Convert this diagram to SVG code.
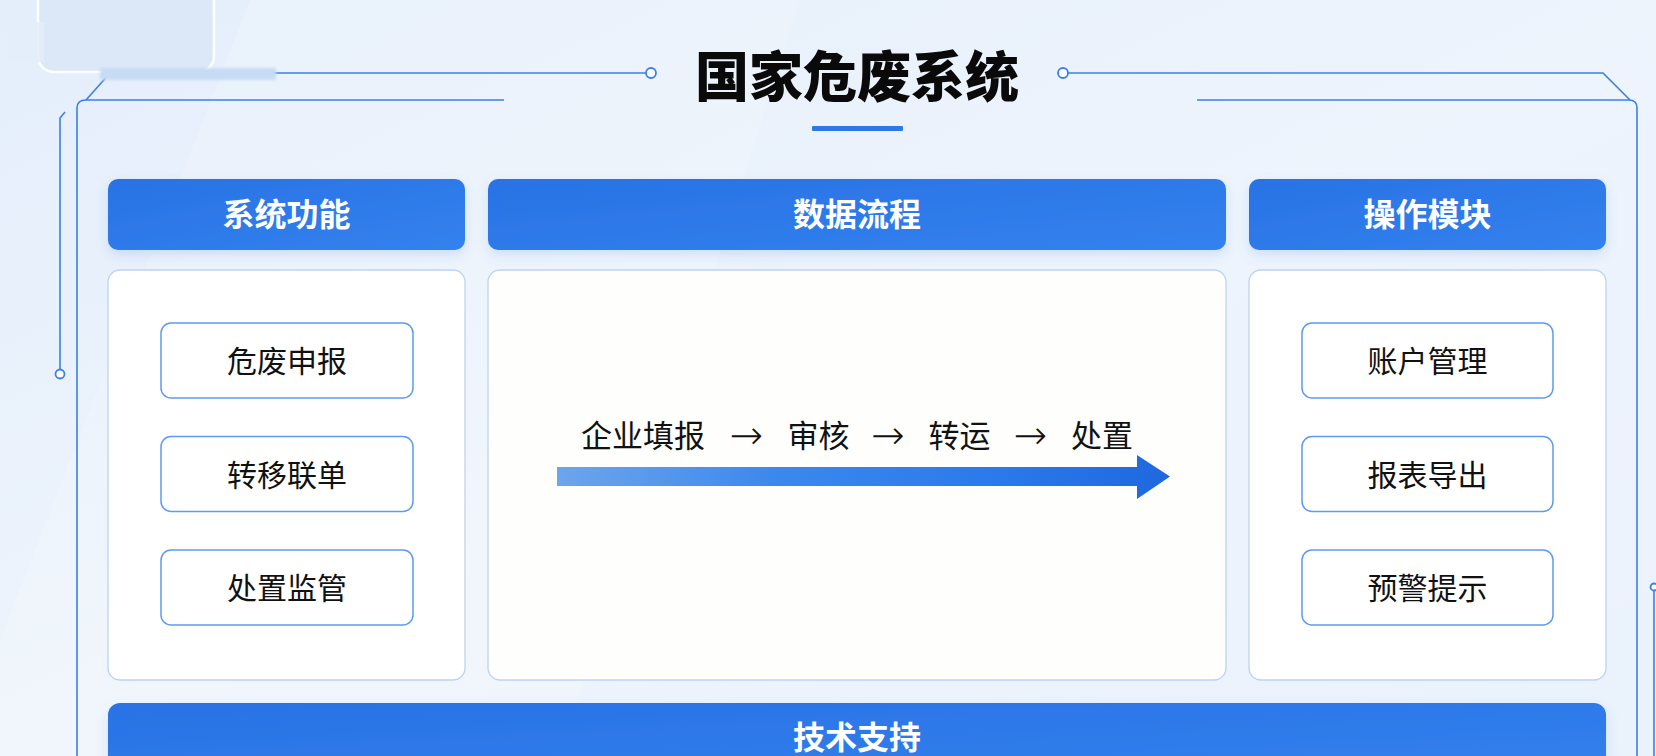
<svg xmlns="http://www.w3.org/2000/svg" width="1656" height="756" viewBox="0 0 1656 756">
  <defs>
    <linearGradient id="bg" x1="0" y1="0" x2="1" y2="1">
      <stop offset="0" stop-color="#e4eefb"/>
      <stop offset="0.5" stop-color="#eef4fc"/>
      <stop offset="1" stop-color="#eaf2fc"/>
    </linearGradient>
    <linearGradient id="hdr" x1="0" y1="0" x2="1" y2="1">
      <stop offset="0" stop-color="#2a72e5"/>
      <stop offset="1" stop-color="#3282ee"/>
    </linearGradient>
    <linearGradient id="flow" x1="0" y1="0" x2="1" y2="0">
      <stop offset="0" stop-color="#6ea5eb"/>
      <stop offset="0.35" stop-color="#3d88ee"/>
      <stop offset="0.7" stop-color="#2c7aeb"/>
      <stop offset="1" stop-color="#1f68df"/>
    </linearGradient>
    <filter id="sh" x="-10%" y="-30%" width="120%" height="170%">
      <feDropShadow dx="0" dy="5" stdDeviation="6" flood-color="#3b7fe0" flood-opacity="0.18"/>
    </filter>
    <filter id="blur" x="-20%" y="-20%" width="140%" height="140%">
      <feGaussianBlur stdDeviation="1.5"/>
    </filter>
  </defs>
  <style>
    .frame { fill: none; stroke: #3a80e6; stroke-width: 1.6; }
    .dot { fill: #ffffff; stroke: #3a80e6; stroke-width: 1.8; }
    .hdr { fill: url(#hdr); filter: url(#sh); }
    .panel { fill: #ffffff; stroke: #bcd3f3; stroke-width: 1.3; }
    .item { fill: #ffffff; stroke: #5e9bef; stroke-width: 1.5; }
    .htxt { font-family: "Noto Sans CJK SC", "Noto Sans", sans-serif; font-size: 32px; font-weight: 700; fill: #ffffff; text-anchor: middle; }
    .itxt { font-family: "Noto Sans CJK SC", "Noto Sans", sans-serif; font-size: 30px; fill: #111111; text-anchor: middle; }
    .ftxt { font-family: "Noto Sans CJK SC", "Noto Sans", sans-serif; font-size: 31px; fill: #111111; text-anchor: middle; }
    .arr { font-family: "DejaVu Sans", sans-serif; font-size: 40px; font-weight: 300; }
    .title { font-family: "Noto Sans CJK SC", "Noto Sans", sans-serif; font-size: 54px; font-weight: 900; fill: #0a0a0a; text-anchor: middle; }
  </style>

  <rect x="0" y="0" width="1656" height="756" fill="url(#bg)"/>
  <polygon points="250,0 800,0 560,756 0,756 0,640" fill="#ffffff" opacity="0.18"/>

  <g id="connectors">
    <path class="frame" d="M646,73 H110 L86,100"/>
    <path class="frame" d="M504,100 H86 Q77,100 77,108 V756"/>
    <path class="frame" d="M65,112 L60,118 V369"/>
    <circle class="dot" cx="60" cy="374" r="4.5"/>
    <circle class="dot" cx="651" cy="73" r="5"/>
    <path class="frame" d="M1068,73 H1603 L1630,100"/>
    <path class="frame" d="M1197,100 H1629 Q1637,100 1637,108 V756"/>
    <circle class="dot" cx="1063" cy="73" r="5"/>
    <path class="frame" d="M1654,591 V756"/>
    <circle class="dot" cx="1654" cy="587" r="3.5"/>
  </g>

  <g id="logo-placeholder">
    <rect x="38" y="-14" width="176" height="86" rx="16" fill="#dce8f8" stroke="#ffffff" stroke-width="2.5" opacity="0.9"/>
    <rect x="8" y="22" width="36" height="40" fill="#e3edfa" opacity="0.9"/>
    <rect x="100" y="68" width="176" height="12" fill="#c8dbf5" filter="url(#blur)"/>
  </g>

  <g id="title">
    <text class="title" x="857" y="97">国家危废系统</text>
    <rect x="812" y="126" width="91" height="5" rx="1" fill="#2e78e6"/>
  </g>

  <g id="header-functions">
    <rect class="hdr" x="108" y="179" width="357" height="71" rx="10"/>
    <text class="htxt" x="286.5" y="226">系统功能</text>
  </g>
  <g id="header-flow">
    <rect class="hdr" x="488" y="179" width="738" height="71" rx="10"/>
    <text class="htxt" x="857" y="226">数据流程</text>
  </g>
  <g id="header-ops">
    <rect class="hdr" x="1249" y="179" width="357" height="71" rx="10"/>
    <text class="htxt" x="1427.5" y="226">操作模块</text>
  </g>

  <g id="panel-functions">
    <rect class="panel" x="108" y="270" width="357" height="410" rx="12"/>
  </g>
  <g id="panel-flow">
    <rect class="panel" x="488" y="270" width="738" height="410" rx="12" style="fill:#fefefc"/>
  </g>
  <g id="panel-ops">
    <rect class="panel" x="1249" y="270" width="357" height="410" rx="12"/>
  </g>

  <g id="item-report">
    <rect class="item" x="161" y="323" width="252" height="75" rx="10"/>
    <text class="itxt" x="287" y="372">危废申报</text>
  </g>
  <g id="item-transfer">
    <rect class="item" x="161" y="436.5" width="252" height="75" rx="10"/>
    <text class="itxt" x="287" y="485.5">转移联单</text>
  </g>
  <g id="item-disposal">
    <rect class="item" x="161" y="550" width="252" height="75" rx="10"/>
    <text class="itxt" x="287" y="599">处置监管</text>
  </g>

  <g id="item-account">
    <rect class="item" x="1302" y="323" width="251" height="75" rx="10"/>
    <text class="itxt" x="1427.5" y="372">账户管理</text>
  </g>
  <g id="item-export">
    <rect class="item" x="1302" y="436.5" width="251" height="75" rx="10"/>
    <text class="itxt" x="1427.5" y="485.5">报表导出</text>
  </g>
  <g id="item-warning">
    <rect class="item" x="1302" y="550" width="251" height="75" rx="10"/>
    <text class="itxt" x="1427.5" y="599">预警提示</text>
  </g>

  <g id="flow">
    <text class="ftxt" y="447"><tspan x="643">企业填报</tspan><tspan class="arr" x="746.5" y="449">→</tspan><tspan x="818.5" y="447">审核</tspan><tspan class="arr" x="888" y="449">→</tspan><tspan x="959.5" y="447">转运</tspan><tspan class="arr" x="1030.5" y="449">→</tspan><tspan x="1102" y="447">处置</tspan></text>
    <polygon points="557,467 1137,467 1137,455 1170,476.5 1137,499 1137,486 557,486" fill="url(#flow)"/>
  </g>

  <g id="tech-support">
    <rect class="hdr" x="108" y="703" width="1498" height="80" rx="12"/>
    <text class="htxt" x="857" y="749">技术支持</text>
  </g>
</svg>
